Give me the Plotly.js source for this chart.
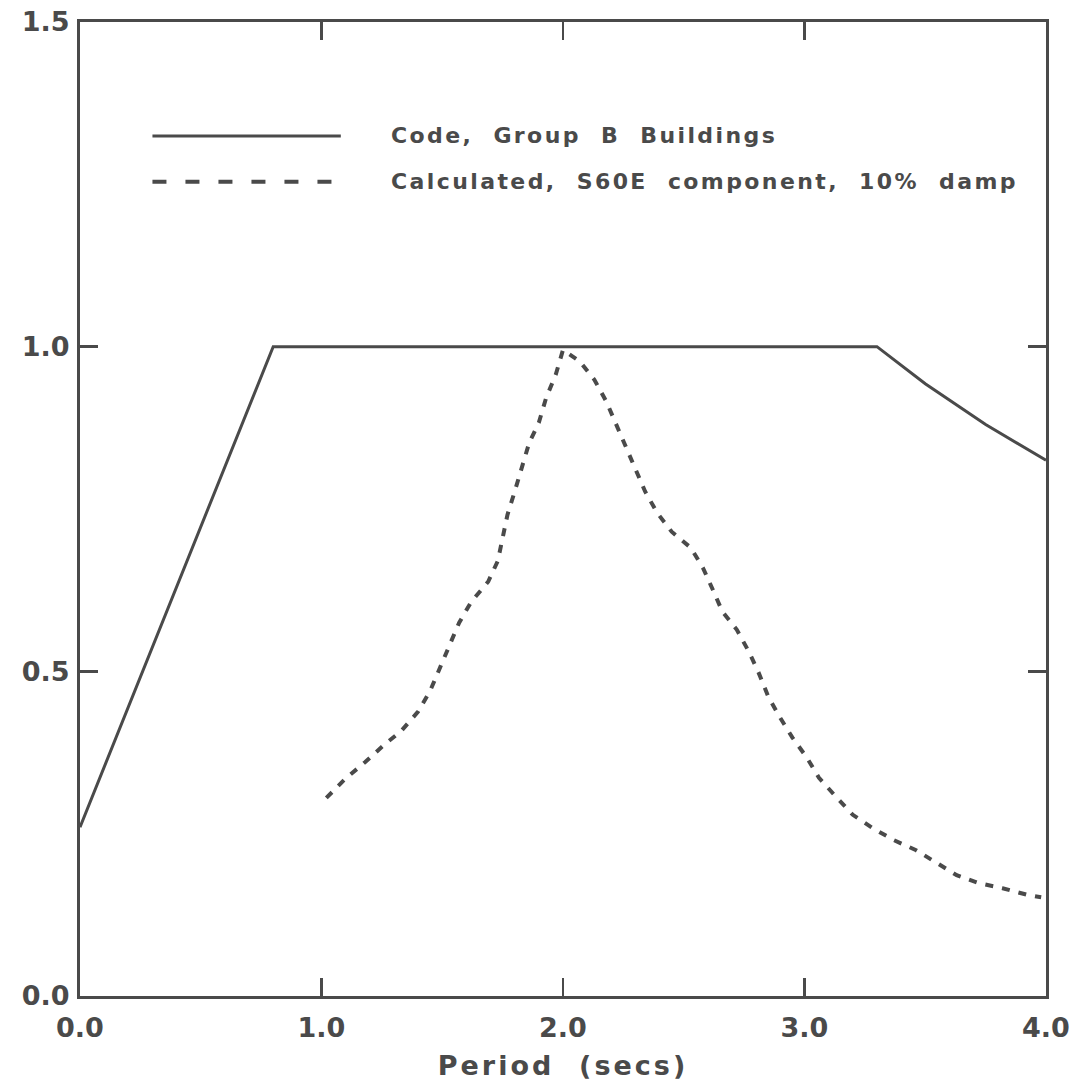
<!DOCTYPE html>
<html>
<head>
<meta charset="utf-8">
<script src="https://cdn.plot.ly/plotly-3.0.1.min.js"></script>
<style>html,body{margin:0;padding:0;background:#fff;}#chart{width:1073px;height:1085px;}</style>
</head>
<body>
<div id="chart"></div>
<script>
// Code spectrum, Group B buildings
const codePeriod = [0.0, 0.80, 3.30, 3.50, 3.75, 4.00];
const codeValue  = [0.26, 1.00, 1.00, 0.943, 0.88, 0.825];

// Calculated S60E component, 10% damping
const calcPeriod = [1.02,1.10,1.18,1.26,1.33,1.40,1.45,1.49,1.53,1.57,1.62,1.69,1.73,1.75,1.77,1.80,1.83,1.86,1.90,1.93,1.97,2.00,2.07,2.13,2.18,2.22,2.26,2.30,2.34,2.39,2.45,2.53,2.58,2.62,2.66,2.72,2.77,2.81,2.85,2.90,2.95,3.01,3.06,3.13,3.20,3.28,3.37,3.46,3.55,3.63,3.72,3.82,3.92,3.98];
const calcValue  = [0.305,0.335,0.36,0.387,0.408,0.438,0.47,0.504,0.54,0.575,0.607,0.638,0.67,0.706,0.741,0.777,0.814,0.852,0.883,0.921,0.957,0.995,0.977,0.949,0.915,0.88,0.846,0.81,0.777,0.744,0.715,0.69,0.659,0.626,0.592,0.564,0.53,0.498,0.461,0.428,0.398,0.367,0.336,0.307,0.279,0.259,0.24,0.225,0.205,0.186,0.174,0.166,0.156,0.152];

const xTicks = [0, 1, 2, 3, 4];
const yTicks = [0, 0.5, 1.0, 1.5];
const legendLabels = ["Code,  Group  B  Buildings", "Calculated,  S60E  component,  10%  damp"];
const xTitle = "Period  (secs)";

const ink = '#4a4a4a';
const fontFam = '"DejaVu Sans", "Liberation Sans", sans-serif';
const spaced = (t, px) => '<span style="letter-spacing:' + px + 'px">' + t.replace(/  /g, '\u00a0\u00a0') + '</span>';

const traces = [
  {x: codePeriod, y: codeValue, mode: 'lines', line: {color: ink, width: 3}, showlegend: false, name: legendLabels[0]},
  {x: calcPeriod, y: calcValue, mode: 'lines', line: {color: ink, width: 4, dash: '8px,9px'}, showlegend: false, name: legendLabels[1]}
];

const axisCommon = {
  showgrid: false, zeroline: false, showline: true, linecolor: ink, linewidth: 3,
  mirror: 'ticks', ticks: 'inside', ticklen: 18, tickwidth: 2.5, tickcolor: ink,
  tickformat: '.1f', tickfont: {family: fontFam, size: 27, color: ink, weight: 'bold'}
};

const layout = {
  width: 1073, height: 1085,
  margin: {l: 80, r: 27, t: 22, b: 89},
  paper_bgcolor: '#fff', plot_bgcolor: '#fff',
  xaxis: Object.assign({}, axisCommon, {range: [0, 4], tickvals: xTicks, ticklabelstandoff: 6,
    title: {text: spaced(xTitle, 3), font: {family: fontFam, size: 27, color: ink, weight: 'bold'}, standoff: 14}}),
  yaxis: Object.assign({}, axisCommon, {range: [0, 1.5], tickvals: yTicks, ticklabelstandoff: 2}),
  shapes: [
    {type: 'line', xref: 'paper', yref: 'paper', x0: 0.075, x1: 0.27, y0: 0.883, y1: 0.883, line: {color: ink, width: 3}},
    {type: 'line', xref: 'paper', yref: 'paper', x0: 0.075, x1: 0.27, y0: 0.836, y1: 0.836, line: {color: ink, width: 4, dash: '14px,19px'}}
  ],
  annotations: [
    {xref: 'paper', yref: 'paper', x: 0.32, y: 0.883, xanchor: 'left', yanchor: 'middle', showarrow: false,
     text: spaced(legendLabels[0], 2.4), font: {family: fontFam, size: 22, color: ink, weight: 'bold'}},
    {xref: 'paper', yref: 'paper', x: 0.32, y: 0.836, xanchor: 'left', yanchor: 'middle', showarrow: false,
     text: spaced(legendLabels[1], 2.4), font: {family: fontFam, size: 22, color: ink, weight: 'bold'}}
  ]
};

Plotly.newPlot('chart', traces, layout, {staticPlot: true, displayModeBar: false});
</script>
</body>
</html>
